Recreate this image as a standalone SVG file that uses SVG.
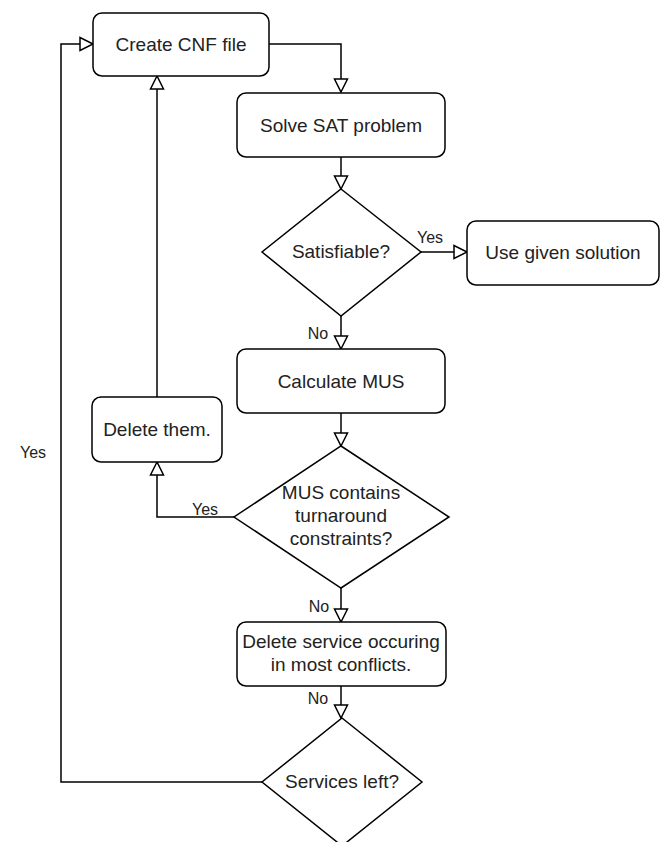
<svg xmlns="http://www.w3.org/2000/svg" width="668" height="842" viewBox="0 0 668 842">
<style>
.box{fill:#fff;stroke:#000;stroke-width:1.5}
.ln{fill:none;stroke:#000;stroke-width:1.5;marker-end:url(#arr)}
.ln2{fill:none;stroke:#000;stroke-width:1.5}
.t{font-family:"Liberation Sans",Arial,sans-serif;font-size:19px;fill:#222;text-anchor:middle}
.lb{font-family:"Liberation Sans",Arial,sans-serif;font-size:16px;fill:#222;text-anchor:middle}
</style>
<defs>
<marker id="arr" markerUnits="userSpaceOnUse" markerWidth="16" markerHeight="16" viewBox="-14 -8 16 16" refX="0" refY="0" orient="auto">
<path d="M0,0 L-13,-6.5 L-13,6.5 Z" fill="#fff" stroke="#000" stroke-width="1.5"/>
</marker>
</defs>
<rect width="668" height="842" fill="#fff"/>
<g id="connectors">
<path class="ln" d="M269,44 H341 V92"/>
<path class="ln" d="M341,157 V189"/>
<path class="ln" d="M421,252 H467"/>
<path class="ln" d="M341,316 V349"/>
<path class="ln" d="M341,413 V446"/>
<path class="ln" d="M234,517 H157 V462"/>
<path class="ln" d="M157,397 V76"/>
<path class="ln" d="M341,588 V622"/>
<path class="ln" d="M341,686 V718"/>
<path class="ln" d="M262,782 H61 V44 H93"/>
<text class="lb" x="430" y="243">Yes</text>
<text class="lb" x="318" y="339">No</text>
<text class="lb" x="205" y="515">Yes</text>
<text class="lb" x="319" y="612">No</text>
<text class="lb" x="318" y="704">No</text>
<text class="lb" x="33" y="458">Yes</text>
</g>
<g id="create-cnf">
<rect class="box" x="93" y="13" width="176" height="63" rx="9"/>
<text class="t" x="181" y="51">Create CNF file</text>
</g>
<g id="solve-sat">
<rect class="box" x="237" y="93" width="208" height="64" rx="9"/>
<text class="t" x="341" y="132">Solve SAT problem</text>
</g>
<g id="satisfiable">
<path class="box" d="M341,189 L421,252 L341,316 L262,252 Z"/>
<text class="t" x="341" y="258">Satisfiable?</text>
</g>
<g id="use-solution">
<rect class="box" x="467" y="221" width="192" height="64" rx="9"/>
<text class="t" x="563" y="259">Use given solution</text>
</g>
<g id="calc-mus">
<rect class="box" x="237" y="349" width="208" height="64" rx="9"/>
<text class="t" x="341" y="388">Calculate MUS</text>
</g>
<g id="delete-them">
<rect class="box" x="92" y="397" width="130" height="65" rx="9"/>
<text class="t" x="157" y="436">Delete them.</text>
</g>
<g id="mus-contains">
<path class="box" d="M341,446 L449,517 L341,588 L234,517 Z"/>
<text class="t" x="341" y="499">MUS contains</text>
<text class="t" x="341" y="522">turnaround</text>
<text class="t" x="341" y="545">constraints?</text>
</g>
<g id="delete-service">
<rect class="box" x="237" y="622" width="209" height="64" rx="9"/>
<text class="t" x="341" y="648">Delete service occuring</text>
<text class="t" x="341" y="671">in most conflicts.</text>
</g>
<g id="services-left">
<path class="box" d="M342,718 L422,782 L342,846 L262,782 Z"/>
<text class="t" x="342" y="788">Services left?</text>
</g>
</svg>
